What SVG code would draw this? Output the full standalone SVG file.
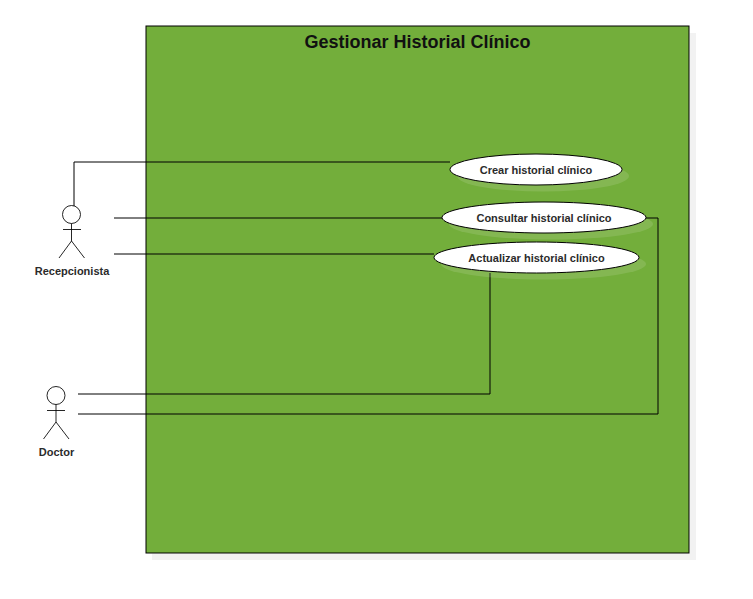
<svg xmlns="http://www.w3.org/2000/svg" width="753" height="599" viewBox="0 0 753 599">
<style>
text{font-family:"Liberation Sans",Arial,sans-serif;font-weight:bold;text-anchor:middle;fill:#2b2b2b}
.lbl{font-size:11px}
.ln{fill:none;stroke:#000;stroke-width:1}
.act{fill:none;stroke:#000;stroke-width:1;opacity:.85}
.uc{fill:#fff;stroke:#000;stroke-width:1}
.ucs{fill:#fff;opacity:.12}
</style>
<g id="system">
<path d="M689.500 33H696V560H152V553.500H689.500Z" fill="#f2f2f2"/>
<rect x="146" y="26" width="543" height="527" fill="#73ae3b" stroke="#000" stroke-width="1"/>
<text x="417.500" y="47.500" font-size="18" style="fill:#111">Gestionar Historial Clínico</text>
</g>
<g id="connectors">
<path class="ln" d="M74 206V162H450"/>
<path class="ln" d="M114 218H442"/>
<path class="ln" d="M114 254H434"/>
<path class="ln" d="M78 394H490V273"/>
<path class="ln" d="M78 414H658V218H646"/>
</g>
<g id="uc-crear">
<ellipse class="ucs" cx="543" cy="176" rx="86" ry="15.500"/>
<ellipse class="uc" cx="536" cy="169.500" rx="86" ry="15.500"/>
<text class="lbl" x="536" y="174">Crear historial clínico</text>
</g>
<g id="uc-consultar">
<ellipse class="ucs" cx="551" cy="224" rx="102" ry="15.500"/>
<ellipse class="uc" cx="544" cy="217.500" rx="102" ry="15.500"/>
<text class="lbl" x="544" y="222">Consultar historial clínico</text>
</g>
<g id="uc-actualizar">
<ellipse class="ucs" cx="543.500" cy="264" rx="102.500" ry="15.500"/>
<ellipse class="uc" cx="536.500" cy="257.500" rx="102.500" ry="15.500"/>
<text class="lbl" x="536.500" y="262">Actualizar historial clínico</text>
</g>
<g id="actor-recepcionista">
<circle class="act" cx="71.500" cy="214.500" r="9"/>
<path class="act" d="M71.500 223.500V241M63 229.500H81M59 258L71.500 241L84.500 258"/>
<text class="lbl" x="72" y="275">Recepcionista</text>
</g>
<g id="actor-doctor">
<circle class="act" cx="56" cy="395.500" r="9"/>
<path class="act" d="M56 404.500V422M47 410.500H65M43.500 439L56 422L69 439"/>
<text class="lbl" x="56.500" y="456">Doctor</text>
</g>
</svg>
